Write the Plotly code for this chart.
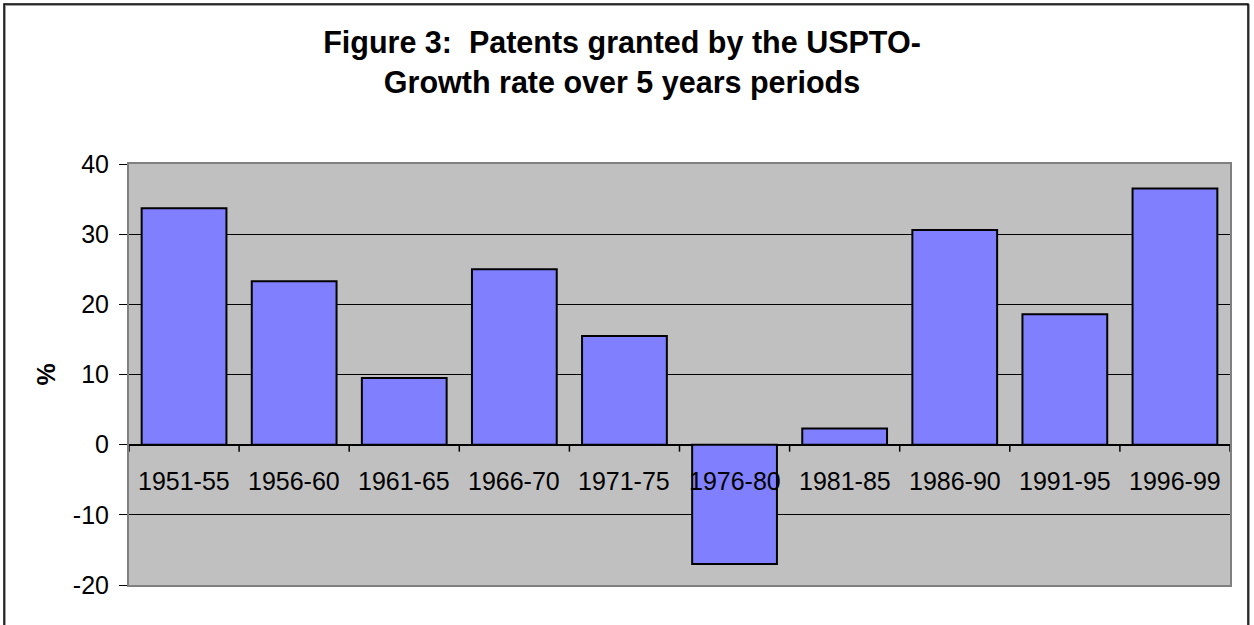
import plotly.graph_objects as go

# Data
categories = ["1951-55", "1956-60", "1961-65", "1966-70", "1971-75",
              "1976-80", "1981-85", "1986-90", "1991-95", "1996-99"]
growth = [33.7, 23.3, 9.5, 25.0, 15.5, -17.0, 2.3, 30.6, 18.6, 36.5]
y_ticks = [-20, -10, 0, 10, 20, 30, 40]
y_tick_labels = ["-20", "-10", "0", "10", "20", "30", "40"]

W, H = 1254, 625
ML, MR, MT, MB = 129, 24, 164, 40
pw, ph = W - ML - MR, H - MT - MB

FONT = "Arial, 'Liberation Sans', sans-serif"

fig = go.Figure()
fig.add_trace(go.Bar(
    x=categories, y=growth,
    marker=dict(color="#8080FF", line=dict(color="black", width=2)),
    hoverinfo="x+y",
))

n = len(categories)

# category labels next to the zero axis
annotations = []
for c in categories:
    annotations.append(dict(x=c, y=0, xref="x", yref="y", text=c, showarrow=False,
                            yanchor="middle", yshift=-36,
                            font=dict(family=FONT, size=25, color="black")))
annotations.append(dict(x=(45 - ML) / pw, y=0.5, xref="paper", yref="paper", text="<b>%</b>",
                        showarrow=False, textangle=-90, xanchor="center", yanchor="middle",
                        font=dict(family=FONT, size=25, color="black")))

shapes = []
# zero-axis tick marks at category boundaries
for k in range(n + 1):
    shapes.append(dict(type="line", xref="x", yref="y", ysizemode="pixel", yanchor=0,
                       x0=k - 0.5, x1=k - 0.5, y0=0, y1=-7,
                       line=dict(color="black", width=1.5)))
# outer chart border (shadow + line)
shapes.append(dict(type="rect", xref="paper", yref="paper", layer="above",
                   x0=(5 - ML) / pw, x1=(1249 - ML) / pw,
                   y0=(H - MB - 660) / ph, y1=(H - MB - 5) / ph,
                   line=dict(color="#A0A0A0", width=2), fillcolor="rgba(0,0,0,0)"))
shapes.append(dict(type="rect", xref="paper", yref="paper", layer="above",
                   x0=(4 - ML) / pw, x1=(1248 - ML) / pw,
                   y0=(H - MB - 660) / ph, y1=(H - MB - 4) / ph,
                   line=dict(color="black", width=1.5), fillcolor="rgba(0,0,0,0)"))

fig.update_layout(
    width=W, height=H,
    margin=dict(l=ML, r=MR, t=MT, b=MB, pad=0),
    paper_bgcolor="white",
    plot_bgcolor="#C0C0C0",
    bargap=0.23,
    showlegend=False,
    title=dict(text="<b>Figure 3:\u00a0 Patents granted by the USPTO-<br>Growth rate over 5 years periods</b>",
               x=622 / W, xanchor="center", xref="container",
               y=1 - 53 / H, yanchor="top", yref="container",
               font=dict(family=FONT, size=30.5, color="black")),
    font=dict(family=FONT, size=25, color="black"),
    xaxis=dict(showticklabels=False, ticks="", showgrid=False,
               showline=True, linecolor="#808080", linewidth=2, mirror=True,
               range=[-0.5, n - 0.5]),
    yaxis=dict(range=[-20, 40], tickvals=y_ticks, ticktext=y_tick_labels,
               ticks="outside", ticklen=8, ticklabelstandoff=5,
               tickcolor="black", tickwidth=1,
               showgrid=True, gridcolor="black", gridwidth=1,
               zeroline=True, zerolinecolor="black", zerolinewidth=2,
               showline=True, linecolor="#808080", linewidth=2, mirror=True,
               tickfont=dict(family=FONT, size=25, color="black")),
    annotations=annotations,
    shapes=shapes,
)

fig.write_html("out.html", config={"displayModeBar": False},
               post_script="document.body.style.margin='0';document.body.style.overflow='hidden';")
